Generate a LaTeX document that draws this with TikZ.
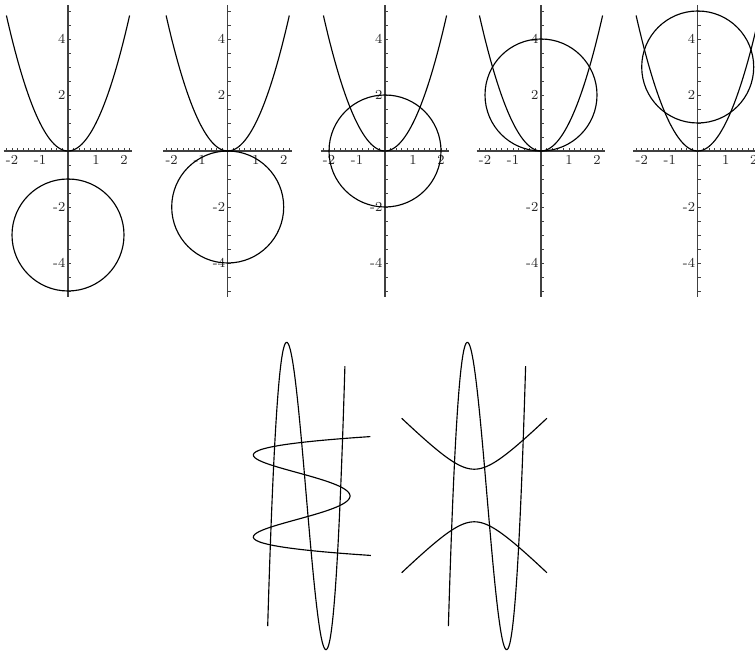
\documentclass[tikz,border=0pt]{standalone}
\usepackage{tikz}

\begin{document}
\begin{tikzpicture}[x=0.2mm, y=0.2mm,
  axis/.style={draw=black!75, line width=0.7pt},
  tick/.style={draw=black!75, line width=0.4pt},
  curve/.style={line width=0.65pt},
  lbl/.style={font=\fontsize{7.8}{9}\selectfont, text=black!85, inner sep=1pt}]
\clip (0,0) rectangle (755,652);
% top row: y=x^2 against circles of radius 2
\foreach \ox/\c [count=\i] in {68/-3, 227.7/-2, 385/0, 541/2, 697.7/3} {
  \begin{scope}[shift={(\ox,501)}, x=5.6mm, y=5.6mm]
    \draw[axis] (-2.3,0) -- (2.3,0);
    \draw[axis] (0,-5.2) -- (0,5.2);
    \foreach \t in {-11,...,11} \draw[tick] (\t/5,0) -- (\t/5,0.09);
    \foreach \t in {-10,...,10} \draw[tick] (0,\t/2) -- (0.1,\t/2);
    \foreach \k in {-2,-1,1,2} \node[lbl, anchor=north] (xl\i\k) at (\k,-0.08) {\k};
    \foreach \k in {-4,-2,2,4} \node[lbl, anchor=east] (yl\i\k) at (-0.02,\k) {\k};
    \draw[curve] plot[domain=-2.2:2.2, samples=60, smooth] (\x,{\x*\x});
    \draw[curve] (0,\c) circle[radius=2];
  \end{scope}
}
% bottom left: cubic and quartic
\draw[curve] plot[domain=-1.965:1.965, samples=80, smooth, variable=\u]
  ({306.3+19.65*\u},{156+76.85*(\u*\u*\u-3*\u)});
\draw[curve] plot[domain=-1.45:1.45, samples=80, smooth, variable=\w]
  ({350-96.7*(2*\w*\w-\w*\w*\w*\w)},{156+41*\w});
% bottom right: cubic and hyperbola
\draw[curve] plot[domain=-1.965:1.965, samples=80, smooth, variable=\u]
  ({487+19.65*\u},{156+76.85*(\u*\u*\u-3*\u)});
\draw[curve] plot[domain=-1.74:1.74, samples=60, smooth, variable=\t]
  ({474.3+26.3*sinh(\t)},{156.5+26.3*cosh(\t)});
\draw[curve] plot[domain=-1.74:1.74, samples=60, smooth, variable=\t]
  ({474.3+26.3*sinh(\t)},{156.5-26.3*cosh(\t)});
\end{tikzpicture}
\end{document}
